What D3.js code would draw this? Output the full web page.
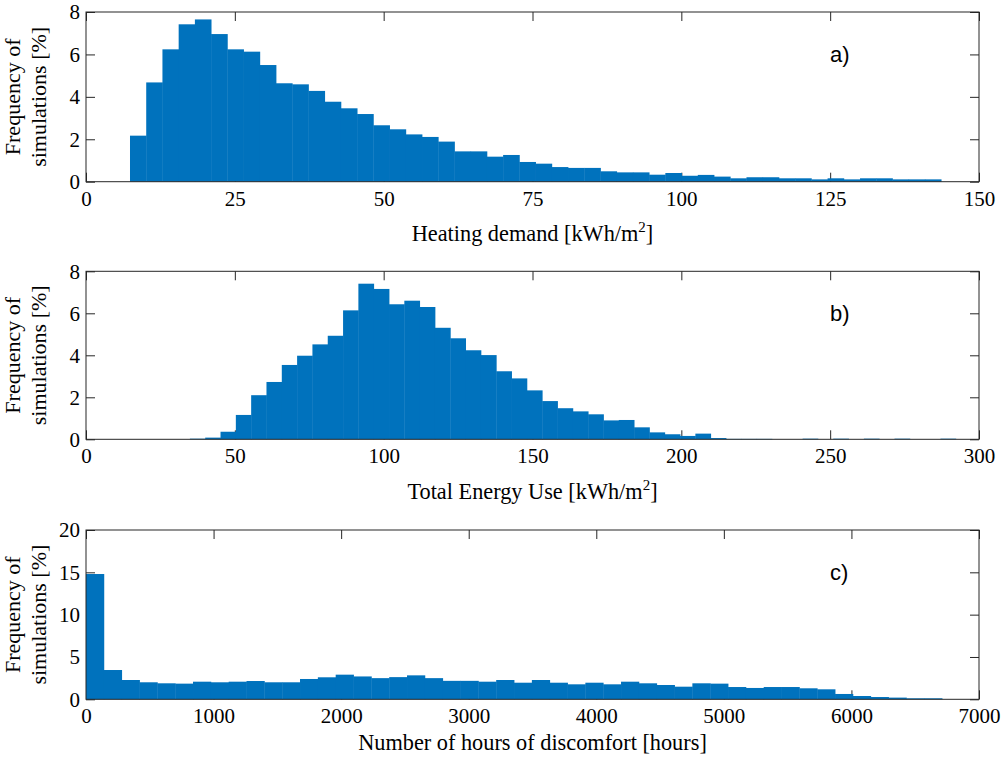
<!DOCTYPE html>
<html><head><meta charset="utf-8">
<script src="https://cdn.jsdelivr.net/npm/d3@7"></script>
<style>body{margin:0;background:#fff}</style>
</head><body><svg id="c" width="1001" height="758"></svg>
<script>
// ---- data ----
const heatingValues = [2.17,4.68,6.24,7.42,7.65,6.96,6.24,6.13,5.50,4.64,4.59,4.28,3.77,3.46,3.19,2.66,2.47,2.23,2.11,1.89,1.43,1.43,1.18,1.26,0.93,0.85,0.69,0.65,0.65,0.49,0.44,0.44,0.33,0.41,0.28,0.32,0.24,0.16,0.21,0.21,0.16,0.16,0.11,0.16,0.11,0.16,0.16,0.11,0.11,0.11];
const heatingBinStart = 7.39, heatingBinWidth = 2.725;
const heatingXTicks = [0,25,50,75,100,125,150];

const totalValues = [0.03,0.08,0.36,1.16,2.10,2.73,3.54,3.98,4.52,4.93,6.14,7.41,7.16,6.43,6.60,6.30,5.31,4.81,4.24,4.01,3.24,2.90,2.33,1.82,1.48,1.33,1.19,0.90,0.92,0.57,0.33,0.24,0.16,0.27,0.06,0.02,0.02,0.02,0,0,0.03,0,0.03,0,0.03,0,0.03,0,0,0.03];
const totalBinStart = 34.9, totalBinWidth = 5.146;
const totalXTicks = [0,50,100,150,200,250,300];

const freqTicksAB = [0,2,4,6,8];

const discomfortValues = [14.8,3.46,2.28,2.01,1.89,1.85,2.08,2.01,2.08,2.16,2.01,2.01,2.40,2.60,2.91,2.70,2.50,2.62,2.83,2.50,2.18,2.18,2.08,2.28,1.96,2.28,1.96,1.77,1.96,1.77,2.08,1.89,1.69,1.49,1.89,1.85,1.45,1.34,1.45,1.45,1.30,1.18,0.63,0.39,0.27,0.20,0.12,0.12];
const discomfortBinStart = 0, discomfortBinWidth = 139.8;
const discomfortXTicks = [0,1000,2000,3000,4000,5000,6000,7000];
const freqTicksC = [0,5,10,15,20];

const yLabelLines = ["Frequency of", "simulations [%]"];
const panelTags = ["a)", "b)", "c)"];

// ---- layout ----
const svg = d3.select("#c");
const L = 86, R = 979;
const serif = "'Liberation Serif','Times New Roman',serif";
const sans = "'Liberation Sans',Arial,sans-serif";
const barColor = "#0072BD";

const panels = [
  {top: 12, bottom: 181.7, xMax: 150, yMax: 8, values: heatingValues, start: heatingBinStart, width: heatingBinWidth,
   xTicks: heatingXTicks, yTicks: freqTicksAB, label: ["Heating demand [kWh/m", "2", "]"], labelOff: 59.5, tag: panelTags[0]},
  {top: 271.3, bottom: 439.3, xMax: 300, yMax: 8, values: totalValues, start: totalBinStart, width: totalBinWidth,
   xTicks: totalXTicks, yTicks: freqTicksAB, label: ["Total Energy Use [kWh/m", "2", "]"], labelOff: 59.5, tag: panelTags[1]},
  {top: 530, bottom: 699.3, xMax: 7000, yMax: 20, values: discomfortValues, start: discomfortBinStart, width: discomfortBinWidth,
   xTicks: discomfortXTicks, yTicks: freqTicksC, label: ["Number of hours of discomfort [hours]"], labelOff: 51, tag: panelTags[2]}
];

panels.forEach((p, pi) => {
  const x = d3.scaleLinear().domain([0, p.xMax]).range([L, R]);
  const y = d3.scaleLinear().domain([0, p.yMax]).range([p.bottom, p.top]);
  const g = svg.append("g");

  const styleAxis = sel => {
    sel.select(".domain").remove();
    sel.selectAll(".tick line").attr("stroke", "#262626");
    sel.selectAll(".tick text").attr("font-family", serif).attr("font-size", 21).attr("fill", "#000");
  };

  g.append("g").attr("transform", `translate(0,${p.bottom})`)
    .call(d3.axisBottom(x).tickValues(p.xTicks).tickSizeInner(-9).tickSizeOuter(0).tickPadding(9).tickFormat(d3.format("d")))
    .call(styleAxis);
  g.append("g").attr("transform", `translate(0,${p.top})`)
    .call(d3.axisTop(x).tickValues(p.xTicks).tickSizeInner(-9).tickSizeOuter(0).tickFormat(""))
    .call(styleAxis);
  g.append("g").attr("transform", `translate(${L},0)`)
    .call(d3.axisLeft(y).tickValues(p.yTicks).tickSizeInner(-9).tickSizeOuter(0).tickPadding(6).tickFormat(d3.format("d")))
    .call(styleAxis);
  g.append("g").attr("transform", `translate(${R},0)`)
    .call(d3.axisRight(y).tickValues(p.yTicks).tickSizeInner(-9).tickSizeOuter(0).tickFormat(""))
    .call(styleAxis);
  g.selectAll(".tick text").attr("font-family", serif);

  const bins = p.values.map((v, i) => ({x0: p.start + i * p.width, x1: p.start + (i + 1) * p.width, v}));
  g.append("g").selectAll("rect").data(bins.filter(b => b.v > 0)).join("rect")
    .attr("x", b => x(b.x0))
    .attr("width", b => x(b.x1) - x(b.x0) + 0.4)
    .attr("y", b => y(b.v))
    .attr("height", b => y(0) - y(b.v))
    .attr("fill", barColor);

  g.append("rect").attr("x", L).attr("y", p.top).attr("width", R - L).attr("height", p.bottom - p.top)
    .attr("fill", "none").attr("stroke", "#262626").attr("stroke-width", 1);

  const t = g.append("text").attr("x", (L + R) / 2).attr("y", p.bottom + p.labelOff)
    .attr("text-anchor", "middle").attr("font-family", serif).attr("font-size", 22.3).attr("fill", "#000");
  t.append("tspan").text(p.label[0]);
  if (p.label.length > 1) {
    t.append("tspan").attr("font-size", 15).attr("dy", -9).text(p.label[1]);
    t.append("tspan").attr("dy", 9).text(p.label[2]);
  }

  const cy = (p.top + p.bottom) / 2;
  [20, 46].forEach((bx, li) => {
    g.append("text").attr("transform", `translate(${bx},${cy}) rotate(-90)`)
      .attr("text-anchor", "middle").attr("font-family", serif).attr("font-size", 22).attr("fill", "#000")
      .text(yLabelLines[li]);
  });

  g.append("text").attr("x", 830).attr("y", p.top + 50).attr("font-family", sans).attr("font-size", 22)
    .attr("fill", "#000").text(p.tag);
});
</script></body></html>
